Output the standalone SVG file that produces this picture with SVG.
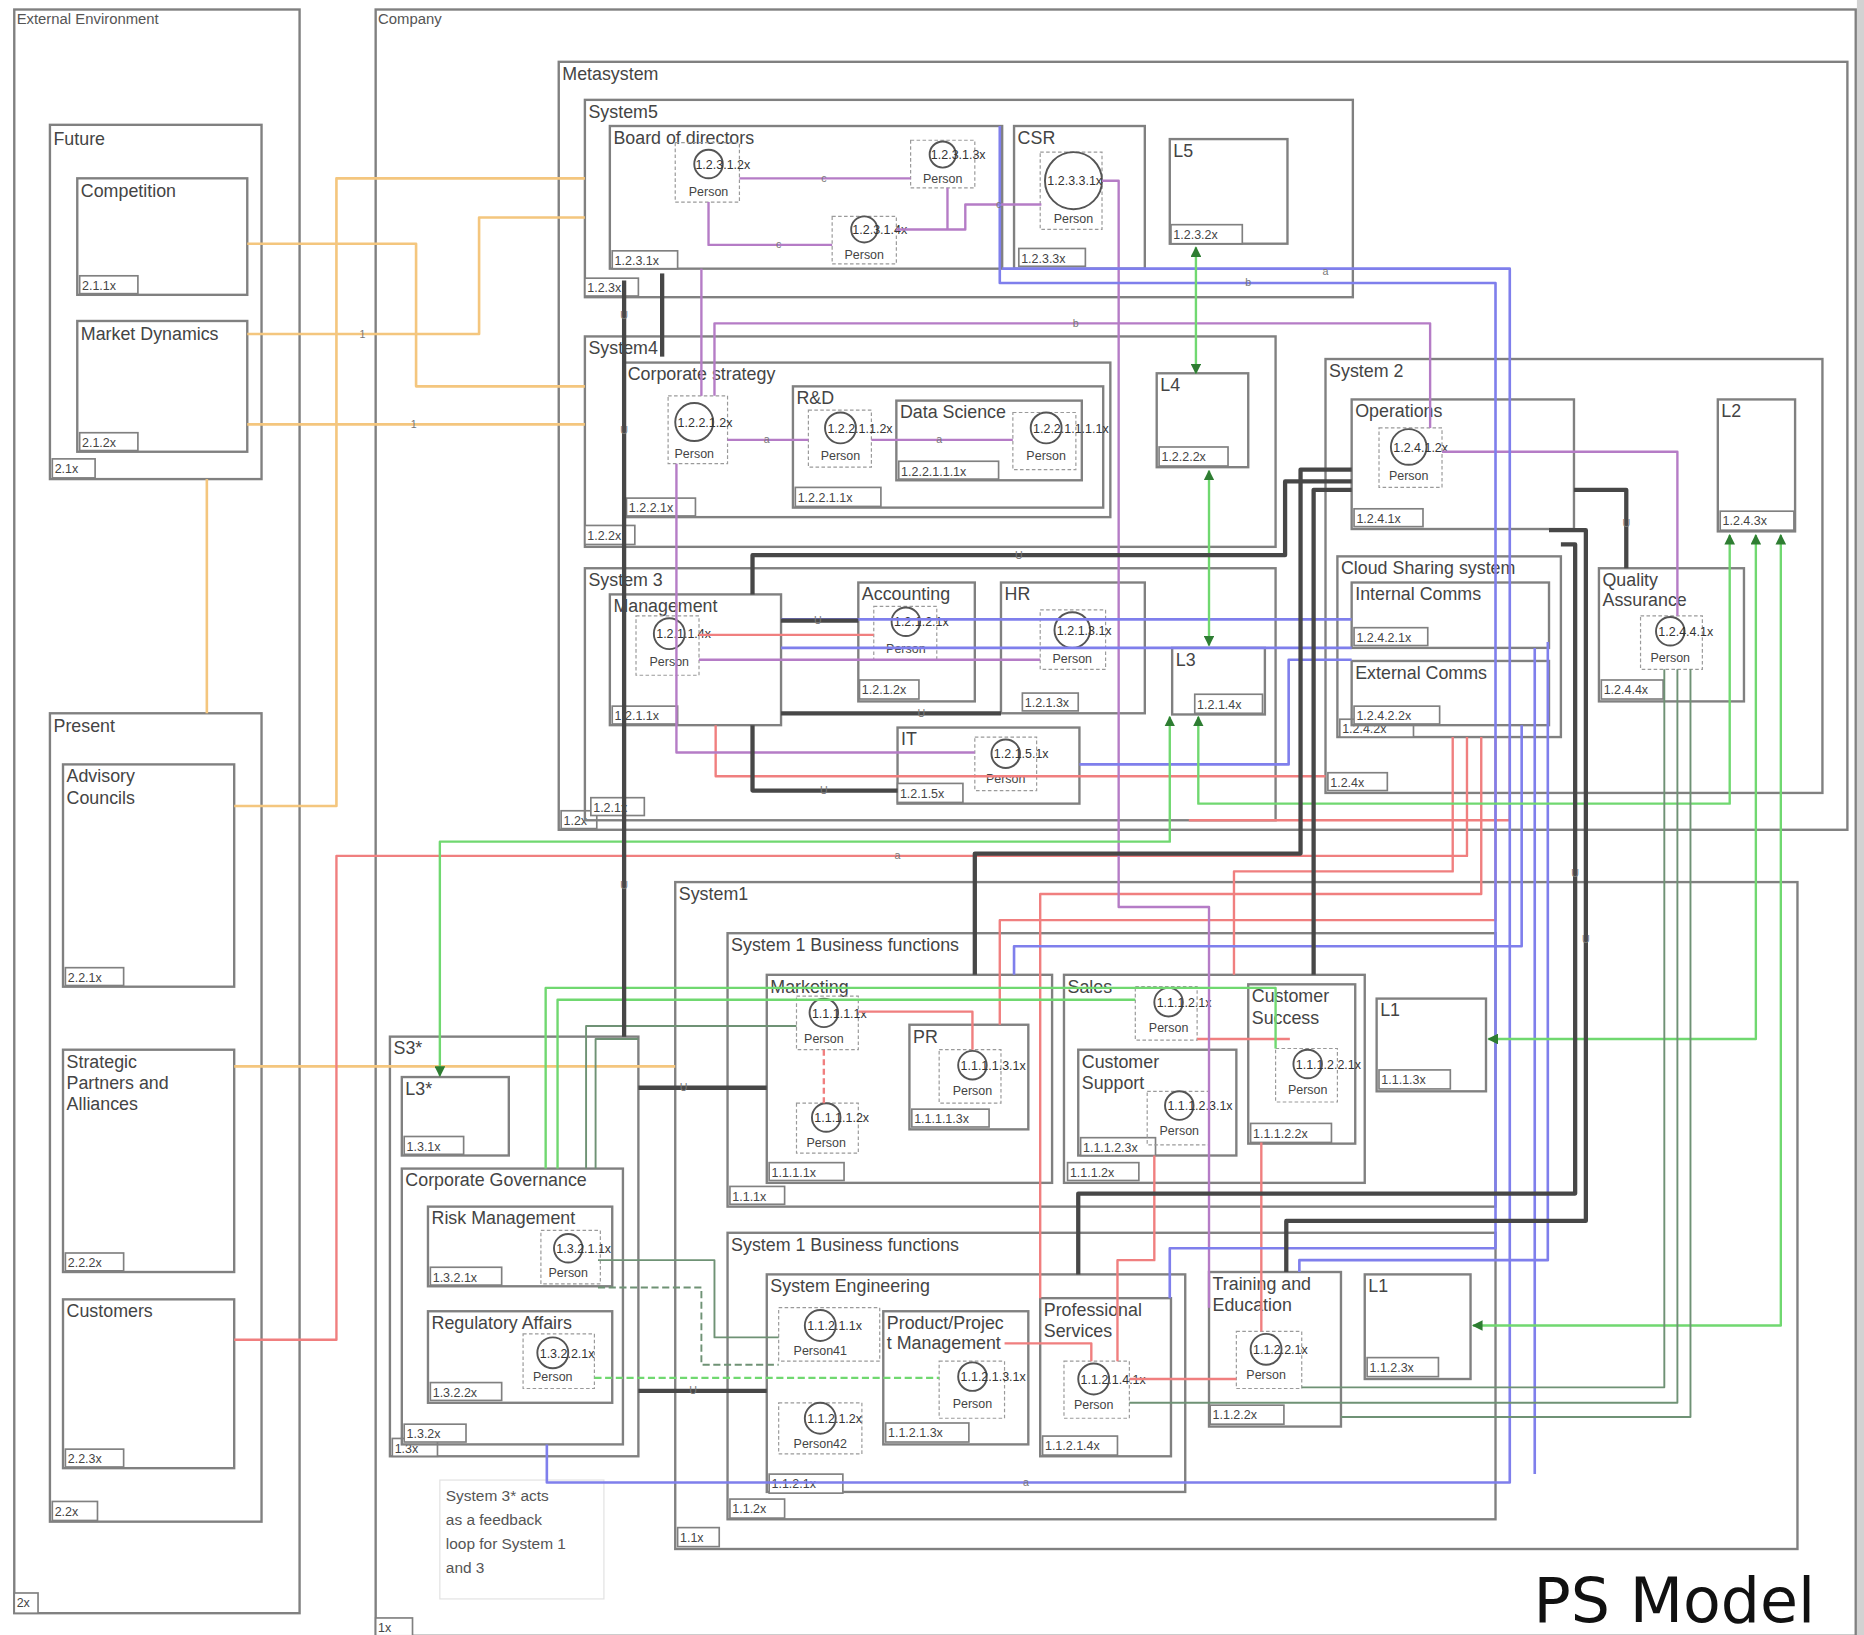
<svg xmlns="http://www.w3.org/2000/svg" width="1864" height="1635" viewBox="0 0 1864 1635">
<defs>
<style>
.b{fill:none;stroke:#808080;stroke-width:2}
.t{fill:#fff;stroke:#808080;stroke-width:1.4}
.l{font-family:"Liberation Sans",Arial,sans-serif;font-size:15px;fill:#444}
.ls{font-family:"Liberation Sans",Arial,sans-serif;font-size:12.5px;fill:#555}
.tg{font-family:"Liberation Sans",Arial,sans-serif;font-size:10.5px;fill:#444}
.pd{fill:none;stroke:#9a9a9a;stroke-width:1;stroke-dasharray:3 2}
.pc{fill:none;stroke:#555;stroke-width:1.6}
.ci{font-family:"Liberation Sans",Arial,sans-serif;font-size:10.5px;fill:#333}
.pn{font-family:"Liberation Sans",Arial,sans-serif;font-size:10.5px;fill:#444;text-anchor:middle}
.c{fill:none;stroke-linejoin:round}
.or{stroke:#f4c67e;stroke-width:2.2}
.rd{stroke:#f07f7f;stroke-width:2}
.pu{stroke:#b57cc6;stroke-width:2}
.bl{stroke:#7f7fec;stroke-width:2.2}
.gr{stroke:#70d870;stroke-width:2}
.dg{stroke:#6f9275;stroke-width:1.6}
.dk{stroke:#474747;stroke-width:3.6}
.ll{font-family:"Liberation Sans",Arial,sans-serif;font-size:9px;fill:#777;text-anchor:middle}
</style>
<marker id="ga" viewBox="0 0 10 10" refX="9" refY="5" markerWidth="4.5" markerHeight="4.5" orient="auto-start-reverse"><path d="M0,0 L10,5 L0,10 z" fill="#2e7d32"/></marker>
</defs>
<rect width="1864" height="1635" fill="#fff"/>
<g transform="scale(1.1888)">
<rect x="1562" y="0" width="6" height="1376" fill="#d2d2d2"/>

<g id="external-environment"><rect class="b" x="12" y="8" width="240" height="1349"/><text class="ls" x="14" y="20">External Environment</text><rect class="t" x="12" y="1340" width="20" height="17"/><text class="tg" x="14" y="1352">2x</text></g>
<g id="future"><rect class="b" x="42" y="105" width="178" height="298"/><text class="l" x="45" y="122">Future</text><rect class="t" x="44" y="386" width="36" height="16"/><text class="tg" x="46" y="398">2.1x</text></g>
<g id="competition"><rect class="b" x="65" y="150" width="143" height="98"/><text class="l" x="68" y="166">Competition</text><rect class="t" x="67" y="232" width="49" height="15"/><text class="tg" x="69" y="244">2.1.1x</text></g>
<g id="market-dynamics"><rect class="b" x="65" y="270" width="143" height="110"/><text class="l" x="68" y="286">Market Dynamics</text><rect class="t" x="67" y="364" width="49" height="15"/><text class="tg" x="69" y="376">2.1.2x</text></g>
<g id="present"><rect class="b" x="42" y="600" width="178" height="680"/><text class="l" x="45" y="616">Present</text><rect class="t" x="44" y="1263" width="38" height="16"/><text class="tg" x="46" y="1275">2.2x</text></g>
<g id="advisory-councils"><rect class="b" x="53" y="643" width="144" height="187"/><text class="l" x="56" y="658">Advisory<tspan x="56" dy="18">Councils</tspan></text><rect class="t" x="55" y="814" width="49" height="15"/><text class="tg" x="57" y="826">2.2.1x</text></g>
<g id="strategic-partners"><rect class="b" x="53" y="883" width="144" height="187"/><text class="l" x="56" y="898">Strategic<tspan x="56" dy="18">Partners and</tspan><tspan x="56" dy="18">Alliances</tspan></text><rect class="t" x="55" y="1054" width="49" height="15"/><text class="tg" x="57" y="1066">2.2.2x</text></g>
<g id="customers"><rect class="b" x="53" y="1093" width="144" height="142"/><text class="l" x="56" y="1108">Customers</text><rect class="t" x="55" y="1219" width="49" height="15"/><text class="tg" x="57" y="1231">2.2.3x</text></g>

<g id="company"><rect class="b" x="316" y="8" width="1245" height="1368"/><text class="ls" x="318" y="20">Company</text><rect class="t" x="316" y="1361" width="31" height="15"/><text class="tg" x="318" y="1373">1x</text></g>
<g id="metasystem"><rect class="b" x="470" y="52" width="1084" height="646"/><text class="l" x="473" y="67">Metasystem</text><rect class="t" x="472" y="682" width="30" height="15"/><text class="tg" x="474" y="694">1.2x</text></g>
<g id="system5"><rect class="b" x="492" y="84" width="646" height="166"/><text class="l" x="495" y="99">System5</text><rect class="t" x="492" y="234" width="45" height="15"/><text class="tg" x="494" y="246">1.2.3x</text></g>
<g id="board"><rect class="b" x="513" y="106" width="330" height="120"/><text class="l" x="516" y="121">Board of directors</text><rect class="t" x="515" y="211" width="55" height="15"/><text class="tg" x="517" y="223">1.2.3.1x</text></g>
<g id="p-1-2-3-1-2"><rect class="pd" x="568" y="120" width="54" height="50"/><circle class="pc" cx="596" cy="138" r="12"/><text class="ci" x="585" y="142">1.2.3.1.2x</text><text class="pn" x="596" y="165">Person</text></g>
<g id="p-1-2-3-1-3"><rect class="pd" x="766" y="118" width="54" height="40"/><circle class="pc" cx="793" cy="130" r="11"/><text class="ci" x="783" y="134">1.2.3.1.3x</text><text class="pn" x="793" y="154">Person</text></g>
<g id="p-1-2-3-1-4"><rect class="pd" x="700" y="182" width="54" height="40"/><circle class="pc" cx="727" cy="193" r="11"/><text class="ci" x="717" y="197">1.2.3.1.4x</text><text class="pn" x="727" y="218">Person</text></g>
<g id="csr"><rect class="b" x="853" y="106" width="110" height="120"/><text class="l" x="856" y="121">CSR</text><rect class="t" x="857" y="209" width="56" height="15"/><text class="tg" x="859" y="221">1.2.3.3x</text></g>
<g id="p-1-2-3-3-1"><rect class="pd" x="875" y="128" width="52" height="65"/><circle class="pc" cx="903" cy="152" r="24"/><text class="ci" x="881" y="156">1.2.3.3.1x</text><text class="pn" x="903" y="188">Person</text></g>
<g id="l5"><rect class="b" x="984" y="117" width="99" height="88"/><text class="l" x="987" y="132">L5</text><rect class="t" x="985" y="189" width="60" height="16"/><text class="tg" x="987" y="201">1.2.3.2x</text></g>

<g id="system4"><rect class="b" x="492" y="283" width="581" height="177"/><text class="l" x="495" y="298">System4</text><rect class="t" x="492" y="442" width="42" height="16"/><text class="tg" x="494" y="454">1.2.2x</text></g>
<g id="corporate-strategy"><rect class="b" x="525" y="305" width="409" height="130"/><text class="l" x="528" y="320">Corporate strategy</text><rect class="t" x="527" y="419" width="58" height="15"/><text class="tg" x="529" y="431">1.2.2.1x</text></g>
<g id="p-1-2-2-1-2"><rect class="pd" x="562" y="333" width="50" height="57"/><circle class="pc" cx="584" cy="355" r="16"/><text class="ci" x="570" y="359">1.2.2.1.2x</text><text class="pn" x="584" y="385">Person</text></g>
<g id="rd"><rect class="b" x="667" y="325" width="261" height="102"/><text class="l" x="670" y="340">R&amp;D</text><rect class="t" x="669" y="410" width="72" height="16"/><text class="tg" x="671" y="422">1.2.2.1.1x</text></g>
<g id="p-1-2-2-1-1-2"><rect class="pd" x="680" y="345" width="53" height="48"/><circle class="pc" cx="707" cy="360" r="13"/><text class="ci" x="696" y="364">1.2.2.1.1.2x</text><text class="pn" x="707" y="387">Person</text></g>
<g id="data-science"><rect class="b" x="754" y="337" width="156" height="67"/><text class="l" x="757" y="352">Data Science</text><rect class="t" x="756" y="388" width="84" height="15"/><text class="tg" x="758" y="400">1.2.2.1.1.1x</text></g>
<g id="p-1-2-2-1-1-1"><rect class="pd" x="852" y="347" width="53" height="48"/><circle class="pc" cx="880" cy="360" r="13"/><text class="ci" x="869" y="364">1.2.2.1.1.1.1x</text><text class="pn" x="880" y="387">Person</text></g>
<g id="l4"><rect class="b" x="973" y="314" width="77" height="79"/><text class="l" x="976" y="329">L4</text><rect class="t" x="975" y="376" width="58" height="16"/><text class="tg" x="977" y="388">1.2.2.2x</text></g>

<g id="system3"><rect class="b" x="492" y="478" width="581" height="212"/><text class="l" x="495" y="493">System 3</text><rect class="t" x="497" y="671" width="45" height="15"/><text class="tg" x="499" y="683">1.2.1x</text></g>
<g id="management"><rect class="b" x="513" y="500" width="144" height="110"/><text class="l" x="516" y="515">Management</text><rect class="t" x="515" y="594" width="55" height="15"/><text class="tg" x="517" y="606">1.2.1.1x</text></g>
<g id="p-1-2-1-1-4"><rect class="pd" x="535" y="518" width="53" height="50"/><circle class="pc" cx="563" cy="533" r="13"/><text class="ci" x="552" y="537">1.2.1.1.4x</text><text class="pn" x="563" y="560">Person</text></g>
<g id="accounting"><rect class="b" x="722" y="490" width="98" height="100"/><text class="l" x="725" y="505">Accounting</text><rect class="t" x="723" y="572" width="50" height="16"/><text class="tg" x="725" y="584">1.2.1.2x</text></g>
<g id="p-1-2-1-2-1"><rect class="pd" x="735" y="510" width="53" height="45"/><circle class="pc" cx="762" cy="523" r="12"/><text class="ci" x="752" y="527">1.2.1.2.1x</text><text class="pn" x="762" y="549">Person</text></g>
<g id="hr"><rect class="b" x="842" y="490" width="121" height="110"/><text class="l" x="845" y="505">HR</text><rect class="t" x="860" y="583" width="47" height="15"/><text class="tg" x="862" y="595">1.2.1.3x</text></g>
<g id="p-1-2-1-3-1"><rect class="pd" x="875" y="513" width="55" height="50"/><circle class="pc" cx="902" cy="530" r="15"/><text class="ci" x="889" y="534">1.2.1.3.1x</text><text class="pn" x="902" y="558">Person</text></g>
<g id="it"><rect class="b" x="755" y="612" width="153" height="64"/><text class="l" x="758" y="627">IT</text><rect class="t" x="755" y="659" width="55" height="16"/><text class="tg" x="757" y="671">1.2.1.5x</text></g>
<g id="p-1-2-1-5-1"><rect class="pd" x="820" y="620" width="52" height="45"/><circle class="pc" cx="846" cy="634" r="12"/><text class="ci" x="836" y="638">1.2.1.5.1x</text><text class="pn" x="846" y="659">Person</text></g>
<g id="l3"><rect class="b" x="986" y="545" width="78" height="56"/><text class="l" x="989" y="560">L3</text><rect class="t" x="1005" y="584" width="57" height="16"/><text class="tg" x="1007" y="596">1.2.1.4x</text></g>

<g id="system2"><rect class="b" x="1115" y="302" width="418" height="365"/><text class="l" x="1118" y="317">System 2</text><rect class="t" x="1117" y="650" width="50" height="15"/><text class="tg" x="1119" y="662">1.2.4x</text></g>
<g id="operations"><rect class="b" x="1137" y="336" width="187" height="109"/><text class="l" x="1140" y="351">Operations</text><rect class="t" x="1139" y="428" width="58" height="15"/><text class="tg" x="1141" y="440">1.2.4.1x</text></g>
<g id="p-1-2-4-1-2"><rect class="pd" x="1160" y="360" width="53" height="50"/><circle class="pc" cx="1185" cy="376" r="15"/><text class="ci" x="1172" y="380">1.2.4.1.2x</text><text class="pn" x="1185" y="404">Person</text></g>
<g id="l2"><rect class="b" x="1445" y="336" width="65" height="111"/><text class="l" x="1448" y="351">L2</text><rect class="t" x="1447" y="430" width="62" height="16"/><text class="tg" x="1449" y="442">1.2.4.3x</text></g>
<g id="cloud-sharing"><rect class="b" x="1125" y="468" width="188" height="152"/><text class="l" x="1128" y="483">Cloud Sharing system</text><rect class="t" x="1127" y="605" width="62" height="15"/><text class="tg" x="1129" y="617">1.2.4.2x</text></g>
<g id="internal-comms"><rect class="b" x="1137" y="490" width="166" height="55"/><text class="l" x="1140" y="505">Internal Comms</text><rect class="t" x="1139" y="528" width="62" height="15"/><text class="tg" x="1141" y="540">1.2.4.2.1x</text></g>
<g id="external-comms"><rect class="b" x="1137" y="556" width="166" height="54"/><text class="l" x="1140" y="571">External Comms</text><rect class="t" x="1139" y="594" width="72" height="15"/><text class="tg" x="1141" y="606">1.2.4.2.2x</text></g>
<g id="quality-assurance"><rect class="b" x="1345" y="478" width="122" height="112"/><text class="l" x="1348" y="493">Quality<tspan x="1348" dy="17">Assurance</tspan></text><rect class="t" x="1347" y="572" width="52" height="16"/><text class="tg" x="1349" y="584">1.2.4.4x</text></g>
<g id="p-1-2-4-4-1"><rect class="pd" x="1380" y="518" width="52" height="45"/><circle class="pc" cx="1405" cy="531" r="12"/><text class="ci" x="1395" y="535">1.2.4.4.1x</text><text class="pn" x="1405" y="557">Person</text></g>

<g id="system1"><rect class="b" x="568" y="742" width="944" height="561"/><text class="l" x="571" y="757">System1</text><rect class="t" x="570" y="1285" width="35" height="16"/><text class="tg" x="572" y="1297">1.1x</text></g>
<g id="s1-business-functions-1"><rect class="b" x="612" y="785" width="646" height="230"/><text class="l" x="615" y="800">System 1 Business functions</text><rect class="t" x="614" y="998" width="46" height="15"/><text class="tg" x="616" y="1010">1.1.1x</text></g>
<g id="marketing"><rect class="b" x="645" y="820" width="240" height="175"/><text class="l" x="648" y="835">Marketing</text><rect class="t" x="647" y="978" width="63" height="15"/><text class="tg" x="649" y="990">1.1.1.1x</text></g>
<g id="p-1-1-1-1-1"><rect class="pd" x="670" y="838" width="52" height="45"/><circle class="pc" cx="693" cy="852" r="12"/><text class="ci" x="683" y="856">1.1.1.1.1x</text><text class="pn" x="693" y="877">Person</text></g>
<g id="p-1-1-1-1-2"><rect class="pd" x="670" y="928" width="52" height="42"/><circle class="pc" cx="695" cy="940" r="12"/><text class="ci" x="685" y="944">1.1.1.1.2x</text><text class="pn" x="695" y="965">Person</text></g>
<g id="pr"><rect class="b" x="765" y="862" width="100" height="88"/><text class="l" x="768" y="877">PR</text><rect class="t" x="767" y="933" width="65" height="15"/><text class="tg" x="769" y="945">1.1.1.1.3x</text></g>
<g id="p-1-1-1-1-3"><rect class="pd" x="790" y="883" width="52" height="45"/><circle class="pc" cx="818" cy="896" r="12"/><text class="ci" x="808" y="900">1.1.1.1.3.1x</text><text class="pn" x="818" y="921">Person</text></g>
<g id="sales"><rect class="b" x="895" y="820" width="253" height="175"/><text class="l" x="898" y="835">Sales</text><rect class="t" x="898" y="978" width="60" height="15"/><text class="tg" x="900" y="990">1.1.1.2x</text></g>
<g id="p-1-1-1-2-1"><rect class="pd" x="955" y="830" width="52" height="45"/><circle class="pc" cx="983" cy="843" r="12"/><text class="ci" x="973" y="847">1.1.1.2.1x</text><text class="pn" x="983" y="868">Person</text></g>
<g id="customer-support"><rect class="b" x="907" y="883" width="133" height="89"/><text class="l" x="910" y="898">Customer<tspan x="910" dy="18">Support</tspan></text><rect class="t" x="909" y="957" width="63" height="15"/><text class="tg" x="911" y="969">1.1.1.2.3x</text></g>
<g id="p-1-1-1-2-3"><rect class="pd" x="965" y="918" width="52" height="45"/><circle class="pc" cx="992" cy="930" r="12"/><text class="ci" x="982" y="934">1.1.1.2.3.1x</text><text class="pn" x="992" y="955">Person</text></g>
<g id="customer-success"><rect class="b" x="1050" y="828" width="90" height="134"/><text class="l" x="1053" y="843">Customer<tspan x="1053" dy="18">Success</tspan></text><rect class="t" x="1052" y="945" width="68" height="16"/><text class="tg" x="1054" y="957">1.1.1.2.2x</text></g>
<g id="p-1-1-1-2-2"><rect class="pd" x="1073" y="882" width="52" height="45"/><circle class="pc" cx="1100" cy="895" r="12"/><text class="ci" x="1090" y="899">1.1.1.2.2.1x</text><text class="pn" x="1100" y="920">Person</text></g>
<g id="l1-top"><rect class="b" x="1158" y="840" width="92" height="78"/><text class="l" x="1161" y="855">L1</text><rect class="t" x="1160" y="900" width="60" height="16"/><text class="tg" x="1162" y="912">1.1.1.3x</text></g>

<g id="s1-business-functions-2"><rect class="b" x="612" y="1037" width="646" height="241"/><text class="l" x="615" y="1052">System 1 Business functions</text><rect class="t" x="614" y="1261" width="46" height="16"/><text class="tg" x="616" y="1273">1.1.2x</text></g>
<g id="system-engineering"><rect class="b" x="645" y="1072" width="352" height="183"/><text class="l" x="648" y="1087">System Engineering</text><rect class="t" x="647" y="1240" width="62" height="16"/><text class="tg" x="649" y="1252">1.1.2.1x</text></g>
<g id="person41"><rect class="pd" x="655" y="1100" width="85" height="45"/><circle class="pc" cx="690" cy="1115" r="13"/><text class="ci" x="679" y="1119">1.1.2.1.1x</text><text class="pn" x="690" y="1140">Person41</text></g>
<g id="person42"><rect class="pd" x="655" y="1180" width="70" height="43"/><circle class="pc" cx="690" cy="1193" r="13"/><text class="ci" x="679" y="1197">1.1.2.1.2x</text><text class="pn" x="690" y="1218">Person42</text></g>
<g id="product-project-management"><rect class="b" x="743" y="1103" width="122" height="112"/><text class="l" x="746" y="1118">Product/Projec<tspan x="746" dy="17">t Management</tspan></text><rect class="t" x="745" y="1197" width="70" height="16"/><text class="tg" x="747" y="1209">1.1.2.1.3x</text></g>
<g id="p-1-1-2-1-3"><rect class="pd" x="790" y="1145" width="55" height="48"/><circle class="pc" cx="818" cy="1158" r="12"/><text class="ci" x="808" y="1162">1.1.2.1.3.1x</text><text class="pn" x="818" y="1184">Person</text></g>
<g id="professional-services"><rect class="b" x="875" y="1092" width="110" height="133"/><text class="l" x="878" y="1107">Professional<tspan x="878" dy="18">Services</tspan></text><rect class="t" x="877" y="1208" width="63" height="16"/><text class="tg" x="879" y="1220">1.1.2.1.4x</text></g>
<g id="p-1-1-2-1-4"><rect class="pd" x="895" y="1145" width="55" height="48"/><circle class="pc" cx="920" cy="1160" r="13"/><text class="ci" x="909" y="1164">1.1.2.1.4.1x</text><text class="pn" x="920" y="1185">Person</text></g>
<g id="training-education"><rect class="b" x="1017" y="1070" width="111" height="130"/><text class="l" x="1020" y="1085">Training and<tspan x="1020" dy="18">Education</tspan></text><rect class="t" x="1018" y="1182" width="62" height="16"/><text class="tg" x="1020" y="1194">1.1.2.2x</text></g>
<g id="p-1-1-2-2-1"><rect class="pd" x="1040" y="1120" width="55" height="48"/><circle class="pc" cx="1065" cy="1135" r="13"/><text class="ci" x="1054" y="1139">1.1.2.2.1x</text><text class="pn" x="1065" y="1160">Person</text></g>
<g id="l1-bottom"><rect class="b" x="1148" y="1072" width="89" height="88"/><text class="l" x="1151" y="1087">L1</text><rect class="t" x="1150" y="1142" width="60" height="16"/><text class="tg" x="1152" y="1154">1.1.2.3x</text></g>

<g id="s3-star"><rect class="b" x="328" y="872" width="209" height="353"/><text class="l" x="331" y="887">S3*</text><rect class="t" x="330" y="1210" width="38" height="15"/><text class="tg" x="332" y="1222">1.3x</text></g>
<g id="l3-star"><rect class="b" x="338" y="906" width="90" height="66"/><text class="l" x="341" y="921">L3*</text><rect class="t" x="340" y="956" width="50" height="15"/><text class="tg" x="342" y="968">1.3.1x</text></g>
<g id="corporate-governance"><rect class="b" x="338" y="983" width="186" height="232"/><text class="l" x="341" y="998">Corporate Governance</text><rect class="t" x="340" y="1198" width="52" height="15"/><text class="tg" x="342" y="1210">1.3.2x</text></g>
<g id="risk-management"><rect class="b" x="360" y="1015" width="155" height="67"/><text class="l" x="363" y="1030">Risk Management</text><rect class="t" x="362" y="1066" width="60" height="15"/><text class="tg" x="364" y="1078">1.3.2.1x</text></g>
<g id="p-1-3-2-1-1"><rect class="pd" x="455" y="1035" width="50" height="45"/><circle class="pc" cx="478" cy="1050" r="12"/><text class="ci" x="468" y="1054">1.3.2.1.1x</text><text class="pn" x="478" y="1074">Person</text></g>
<g id="regulatory-affairs"><rect class="b" x="360" y="1103" width="155" height="77"/><text class="l" x="363" y="1118">Regulatory Affairs</text><rect class="t" x="362" y="1163" width="60" height="15"/><text class="tg" x="364" y="1175">1.3.2.2x</text></g>
<g id="p-1-3-2-2-1"><rect class="pd" x="440" y="1122" width="60" height="46"/><circle class="pc" cx="465" cy="1138" r="13"/><text class="ci" x="454" y="1142">1.3.2.2.1x</text><text class="pn" x="465" y="1162">Person</text></g>

<g id="note"><rect x="370" y="1245" width="138" height="100" fill="none" stroke="#e2e2e2" stroke-width="1"/><text class="ls" x="375" y="1263" style="font-size:13px">System 3* acts<tspan x="375" dy="20">as a feedback</tspan><tspan x="375" dy="20">loop for System 1</tspan><tspan x="375" dy="20">and 3</tspan></text></g>

<g id="connectors">
<path class="c or" d="M208,205 H350 V325 H492"/>
<path class="c or" d="M208,281 H403 V183 H492"/>
<path class="c or" d="M208,357 H492"/>
<path class="c or" d="M197,678 H283 V150 H492"/>
<path class="c or" d="M174,403 V600"/>
<path class="c or" d="M197,897 H568"/>

<path class="c rd" d="M197,1127 H283 V720 H1234 V620"/>
<path class="c rd" d="M1222,620 V733 H1038 V820"/>
<path class="c rd" d="M1246,620 V752 H875 V1092"/>
<path class="c rd" d="M1258,620 V774 H841 V862"/>
<path class="c rd" d="M1270,620 V690 H1000"/>
<path class="c rd" d="M602,610 V653 H1115"/>
<path class="c rd" d="M588,534 H735"/>
<path class="c rd" d="M722,851 H818 V883"/>
<path class="c rd" d="M693,883 V928" stroke-dasharray="5 3"/>
<path class="c rd" d="M1007,874 H1085"/>
<path class="c rd" d="M845,1130 H918 V1145"/>
<path class="c rd" d="M950,1160 H1040"/>
<path class="c rd" d="M971,972 V1060 H940 V1145"/>
<path class="c rd" d="M1061,961 V1120"/>

<path class="c pu" d="M622,150 H766"/>
<path class="c pu" d="M596,170 V206 H700"/>
<path class="c pu" d="M754,193 H812 V172 H876"/>
<path class="c pu" d="M797,158 V193"/>
<path class="c pu" d="M927,152 H941 V763 H1017 V1100"/>
<path class="c pu" d="M590,226 V333"/>
<path class="c pu" d="M601,333 V272 H1203 V360"/>
<path class="c pu" d="M612,370 H680"/>
<path class="c pu" d="M733,370 H852"/>
<path class="c pu" d="M569,390 V633 H820"/>
<path class="c pu" d="M588,555 H875"/>
<path class="c pu" d="M1213,380 H1411 V518"/>

<path class="c bl" d="M841,106 V238 H1258 V1050 H984 V1092"/>
<path class="c bl" d="M843,226 H1270 V1247 H460 V1215"/>
<path class="c bl" d="M1302,540 V1060 H1093 V1070"/>
<path class="c bl" d="M657,521 H1137"/>
<path class="c bl" d="M657,545 H1137"/>
<path class="c bl" d="M908,643 H1084 V555 H1137"/>
<path class="c bl" d="M853,820 V796 H1280 V610"/>
<path class="c bl" d="M1291,545 V1240"/>

<path class="c gr" d="M1006,208 V314" marker-start="url(#ga)" marker-end="url(#ga)"/>
<path class="c gr" d="M1017,396 V543" marker-start="url(#ga)" marker-end="url(#ga)"/>
<path class="c gr" d="M984,603 V708 H370 V905" marker-start="url(#ga)" marker-end="url(#ga)"/>
<path class="c gr" d="M1008,603 V676 H1455 V450" marker-start="url(#ga)" marker-end="url(#ga)"/>
<path class="c gr" d="M1477,450 V874 H1252" marker-start="url(#ga)" marker-end="url(#ga)"/>
<path class="c gr" d="M1498,450 V1115 H1239" marker-start="url(#ga)" marker-end="url(#ga)"/>
<path class="c gr" d="M459,983 V831 H1073 V882"/>
<path class="c gr" d="M469,983 V841 H955"/>
<path class="c dg" d="M493,983 V863 H670"/>
<path class="c dg" d="M501,983 V874 H537"/>
<path class="c dg" d="M1400,563 V1167 H1095"/>
<path class="c dg" d="M1411,563 V1180 H950"/>
<path class="c dg" d="M1422,563 V1192 H1128"/>
<path class="c dg" d="M503,1060 H601 V1125 H655"/>
<path class="c dg" d="M503,1083 H590 V1148 H655" stroke-dasharray="6 3"/>
<path class="c gr" d="M500,1159 H790" stroke-dasharray="6 3"/>

<path class="c dk" d="M525,236 V872"/>
<path class="c dk" d="M557,230 V300"/>
<path class="c dk" d="M657,522 H722"/>
<path class="c dk" d="M633,500 V467 H1081 V405 H1137"/>
<path class="c dk" d="M657,600 H842"/>
<path class="c dk" d="M633,610 V665 H755"/>
<path class="c dk" d="M1137,395 H1094 V718 H820 V820"/>
<path class="c dk" d="M1137,412 H1105 V820"/>
<path class="c dk" d="M1303,446 H1334 V1027 H1082 V1070"/>
<path class="c dk" d="M1313,458 H1325 V1004 H907 V1072"/>
<path class="c dk" d="M1324,412 H1368 V478"/>
<path class="c dk" d="M537,915 H645"/>
<path class="c dk" d="M537,1170 H645"/>

<g class="ll">
<text x="525" y="268">U</text><text x="525" y="365">U</text><text x="525" y="748">U</text><text x="688" y="525">U</text><text x="857" y="470">U</text><text x="775" y="603">U</text><text x="693" y="668">U</text><text x="575" y="918">U</text><text x="583" y="1173">U</text><text x="1368" y="443">U</text><text x="1334" y="793">U</text><text x="1325" y="738">U</text>
<text x="693" y="153">c</text><text x="655" y="209">c</text><text x="840" y="175">c</text><text x="645" y="373">a</text><text x="790" y="373">a</text><text x="905" y="275">b</text><text x="1115" y="231">a</text><text x="1050" y="241">b</text><text x="755" y="723">a</text><text x="863" y="1250">a</text><text x="305" y="284">1</text><text x="348" y="360">1</text>
</g>
</g>

<text x="1290" y="1364" style="font-family:'DejaVu Sans',Verdana,sans-serif;font-size:52px;fill:#111">PS Model</text>
</g>
</svg>
